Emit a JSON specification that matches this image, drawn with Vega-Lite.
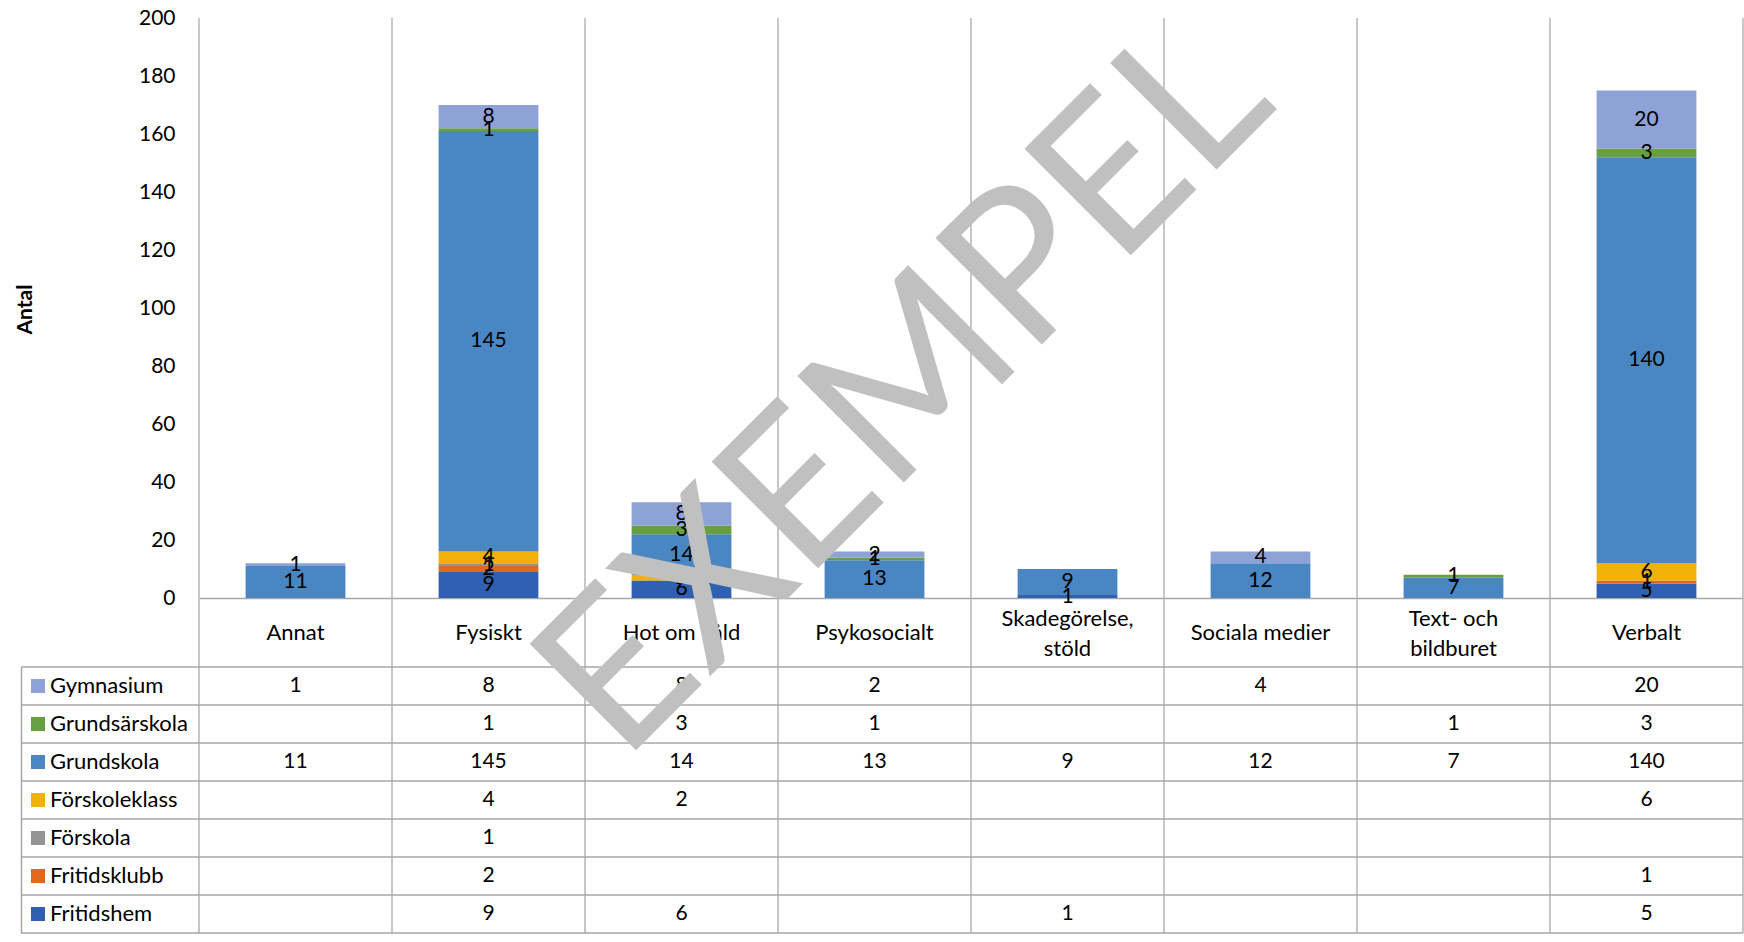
{
  "$schema": "https://vega.github.io/schema/vega-lite/v6.json",
  "width": 1722,
  "height": 915,
  "autosize": {"type": "none"},
  "padding": {"left": 21, "top": 18, "right": 1, "bottom": 9},
  "background": "white",
  "config": {"font": "Lato", "view": {"stroke": null}},
  "datasets": {
    "main": [
      {"Kategori": "Annat", "Skolform": "Grundskola", "Antal": 11},
      {"Kategori": "Annat", "Skolform": "Gymnasium", "Antal": 1},
      {"Kategori": "Fysiskt", "Skolform": "Fritidshem", "Antal": 9},
      {"Kategori": "Fysiskt", "Skolform": "Fritidsklubb", "Antal": 2},
      {"Kategori": "Fysiskt", "Skolform": "Förskola", "Antal": 1},
      {"Kategori": "Fysiskt", "Skolform": "Förskoleklass", "Antal": 4},
      {"Kategori": "Fysiskt", "Skolform": "Grundskola", "Antal": 145},
      {"Kategori": "Fysiskt", "Skolform": "Grundsärskola", "Antal": 1},
      {"Kategori": "Fysiskt", "Skolform": "Gymnasium", "Antal": 8},
      {"Kategori": "Hot om våld", "Skolform": "Fritidshem", "Antal": 6},
      {"Kategori": "Hot om våld", "Skolform": "Förskoleklass", "Antal": 2},
      {"Kategori": "Hot om våld", "Skolform": "Grundskola", "Antal": 14},
      {"Kategori": "Hot om våld", "Skolform": "Grundsärskola", "Antal": 3},
      {"Kategori": "Hot om våld", "Skolform": "Gymnasium", "Antal": 8},
      {"Kategori": "Psykosocialt", "Skolform": "Grundskola", "Antal": 13},
      {"Kategori": "Psykosocialt", "Skolform": "Grundsärskola", "Antal": 1},
      {"Kategori": "Psykosocialt", "Skolform": "Gymnasium", "Antal": 2},
      {"Kategori": "Skadegörelse, stöld", "Skolform": "Fritidshem", "Antal": 1},
      {"Kategori": "Skadegörelse, stöld", "Skolform": "Grundskola", "Antal": 9},
      {"Kategori": "Sociala medier", "Skolform": "Grundskola", "Antal": 12},
      {"Kategori": "Sociala medier", "Skolform": "Gymnasium", "Antal": 4},
      {"Kategori": "Text- och bildburet", "Skolform": "Grundskola", "Antal": 7},
      {"Kategori": "Text- och bildburet", "Skolform": "Grundsärskola", "Antal": 1},
      {"Kategori": "Verbalt", "Skolform": "Fritidshem", "Antal": 5},
      {"Kategori": "Verbalt", "Skolform": "Fritidsklubb", "Antal": 1},
      {"Kategori": "Verbalt", "Skolform": "Förskoleklass", "Antal": 6},
      {"Kategori": "Verbalt", "Skolform": "Grundskola", "Antal": 140},
      {"Kategori": "Verbalt", "Skolform": "Grundsärskola", "Antal": 3},
      {"Kategori": "Verbalt", "Skolform": "Gymnasium", "Antal": 20}
    ],
    "cats": [
      {"Kategori": "Annat"}, {"Kategori": "Fysiskt"}, {"Kategori": "Hot om våld"}, {"Kategori": "Psykosocialt"},
      {"Kategori": "Skadegörelse, stöld"}, {"Kategori": "Sociala medier"}, {"Kategori": "Text- och bildburet"}, {"Kategori": "Verbalt"}
    ],
    "series": [
      {"Skolform": "Gymnasium"}, {"Skolform": "Grundsärskola"}, {"Skolform": "Grundskola"}, {"Skolform": "Förskoleklass"},
      {"Skolform": "Förskola"}, {"Skolform": "Fritidsklubb"}, {"Skolform": "Fritidshem"}
    ],
    "mark1": [{"t": "EXEMPEL"}]
  },
  "layer": [
    {
      "data": {"name": "cats"},
      "mark": {"type": "rule", "color": "#b4b4b4", "strokeWidth": 1.5},
      "encoding": {
        "x": {"field": "Kategori", "type": "nominal", "bandPosition": 0}
      }
    },
    {
      "data": {"name": "mark1"},
      "mark": {"type": "rule", "color": "#b4b4b4", "strokeWidth": 1.5},
      "encoding": {
        "x": {"datum": "Verbalt", "bandPosition": 1}
      }
    },
    {
      "data": {"name": "main"},
      "layer": [
        {
          "mark": {"type": "bar", "width": {"band": 0.517}},
          "encoding": {
            "x": {
              "field": "Kategori", "type": "nominal", "sort": null,
              "scale": {"type": "band", "domain": ["Annat", "Fysiskt", "Hot om våld", "Psykosocialt", "Skadegörelse, stöld", "Sociala medier", "Text- och bildburet", "Verbalt"], "range": [178, 1722], "paddingInner": 0, "paddingOuter": 0},
              "axis": {
                "orient": "bottom", "offset": -335, "title": null,
                "domain": true, "domainColor": "#a6a6a6", "domainWidth": 1.5,
                "ticks": false, "tickSize": 0, "grid": false,
                "labelAngle": 0, "labelAlign": "center", "labelBaseline": "middle", "labelFontSize": 22, "labelColor": "black", "labelLineHeight": 30, "labelLimit": 0,
                "labelPadding": {"condition": {"test": "datum.value == 'Skadegörelse, stöld' || datum.value == 'Text- och bildburet'", "value": 20}, "value": 34},
                "labelExpr": "datum.value == 'Skadegörelse, stöld' ? ['Skadegörelse,', 'stöld'] : datum.value == 'Text- och bildburet' ? ['Text- och', 'bildburet'] : datum.label"
              }
            },
            "y": {
              "field": "Antal", "type": "quantitative", "stack": "zero",
              "scale": {"domain": [0, 200], "range": [580, 0], "nice": false, "zero": true},
              "axis": {
                "orient": "left", "offset": -178, "domain": false, "ticks": false, "tickSize": 0, "grid": false,
                "values": [0, 20, 40, 60, 80, 100, 120, 140, 160, 180, 200],
                "labelPadding": 24, "labelFontSize": 21, "labelColor": "black",
                "title": "Antal", "titleFontSize": 21, "titleFontWeight": "bold", "titleColor": "black",
                "titleX": -174, "titleY": 291, "titleAngle": -90, "titleBaseline": "middle", "titleAlign": "center"
              }
            },
            "color": {
              "field": "Skolform", "type": "nominal",
              "scale": {
                "domain": ["Gymnasium", "Grundsärskola", "Grundskola", "Förskoleklass", "Förskola", "Fritidsklubb", "Fritidshem"],
                "range": ["#8fa2d8", "#66a040", "#4a86c1", "#f0b20a", "#949494", "#e0691f", "#3060b0"]
              },
              "legend": {
                "orient": "none", "legendX": 6, "legendY": 657, "title": null, "padding": 0,
                "symbolType": "square", "symbolSize": 196, "symbolStrokeWidth": 0, "symbolOffset": 0,
                "labelFontSize": 22, "labelOffset": 1, "labelColor": "black", "rowPadding": 16
              }
            },
            "order": {"field": "Skolform", "type": "ordinal", "sort": "ascending"}
          }
        },
        {
          "transform": [
            {"stack": "Antal", "groupby": ["Kategori"], "sort": [{"field": "Skolform", "order": "ascending"}], "as": ["s0", "s1"]},
            {"calculate": "(datum.s0 + datum.s1) / 2", "as": "mid"}
          ],
          "mark": {"type": "text", "fontSize": 21, "color": "black", "align": "center", "baseline": "middle"},
          "encoding": {
            "x": {"field": "Kategori", "type": "nominal"},
            "y": {"field": "mid", "type": "quantitative"},
            "text": {"field": "Antal", "type": "quantitative"}
          }
        }
      ]
    },
    {
      "layer": [
        {
          "data": {"name": "main"},
          "mark": {"type": "text", "fontSize": 21, "color": "black", "align": "center", "baseline": "middle"},
          "encoding": {
            "x": {"field": "Kategori", "type": "nominal"},
            "y": {
              "field": "Skolform", "type": "nominal",
              "scale": {"type": "band", "domain": ["Gymnasium", "Grundsärskola", "Grundskola", "Förskoleklass", "Förskola", "Fritidsklubb", "Fritidshem"], "range": [649, 915], "paddingInner": 0, "paddingOuter": 0},
              "axis": {"orient": "left", "offset": 0, "domain": true, "domainColor": "#a6a6a6", "domainWidth": 1.5, "labels": false, "ticks": false, "grid": false, "title": null}
            },
            "text": {"field": "Antal", "type": "quantitative"}
          }
        },
        {
          "data": {"name": "series"},
          "mark": {"type": "rule", "color": "#a6a6a6", "strokeWidth": 1.5},
          "encoding": {
            "y": {"field": "Skolform", "type": "nominal", "bandPosition": 0}
          }
        },
        {
          "data": {"name": "mark1"},
          "mark": {"type": "rule", "color": "#a6a6a6", "strokeWidth": 1.5},
          "encoding": {
            "y": {"datum": "Fritidshem", "type": "nominal", "bandPosition": 1}
          }
        }
      ]
    },
    {
      "data": {"name": "mark1"},
      "mark": {"type": "text", "angle": -45, "fontSize": 210, "fontWeight": "normal", "color": "#c0c0c0", "align": "center", "baseline": "middle", "dx": 5, "dy": 40},
      "encoding": {
        "x": {"datum": "Psykosocialt"},
        "y": {"datum": 80, "type": "quantitative", "scale": {"domain": [0, 200], "range": [580, 0], "nice": false}, "axis": null},
        "text": {"field": "t"}
      }
    }
  ],
  "resolve": {"scale": {"y": "independent"}, "axis": {"y": "independent"}}
}
